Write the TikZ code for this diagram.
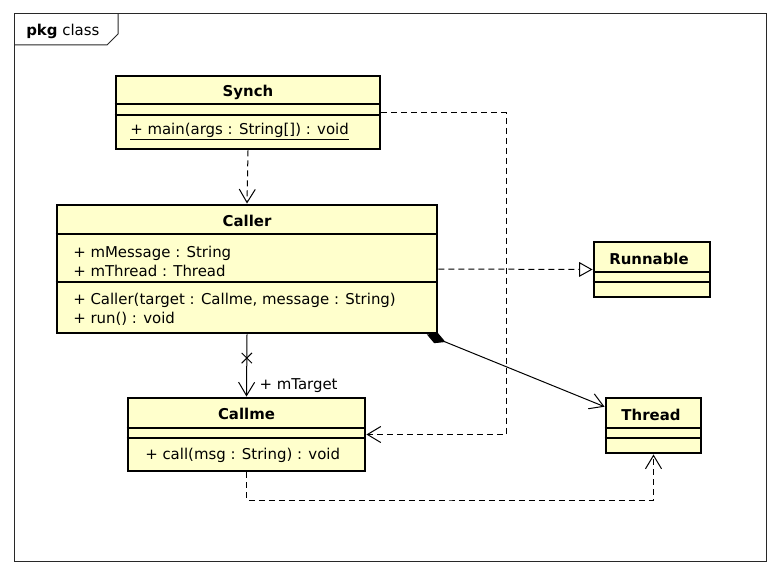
\documentclass[tikz,border=0pt]{standalone}
\usepackage{fontspec}
\setmainfont{DejaVu Sans}
\usepackage{xcolor}
\definecolor{umlyellow}{RGB}{255,255,204}
\definecolor{umlframe}{RGB}{40,40,40}
\usetikzlibrary{arrows.meta,positioning,shapes.misc}

\begin{document}
\begin{tikzpicture}[x=0.75pt, y=-0.75pt, font=\fontsize{11.2}{14.25}\selectfont,
    classbox/.style={draw, fill=umlyellow, line width=2.2pt, inner sep=0pt},
    classname/.style={font=\fontsize{11.2}{14.25}\selectfont\bfseries, inner sep=0pt},
    member/.style={anchor=west, align=left, inner sep=0pt},
    split/.style={line width=0.8pt},
    dep/.style={line width=0.75pt, dash pattern=on 4.5pt off 3pt,
                -{Straight Barb[length=10pt,width=12pt]}},
    realize/.style={line width=0.75pt, dash pattern=on 4.5pt off 3pt,
                -{Triangle[open,length=10pt,width=11pt]}},
    assoc/.style={line width=0.75pt, -{Straight Barb[length=10pt,width=12pt]}},
    comp/.style={line width=0.75pt,
                {Diamond[length=15pt,width=8pt]}-{Straight Barb[length=10pt,width=12pt]}}]

    \useasboundingbox (0,0) rectangle (780,574);

    % Package frame
    \draw[umlframe, line width=0.75pt] (14,14) rectangle (766,561);
    \draw[umlframe, line width=0.75pt] (14,45) -- (107,45) -- (118,34) -- (118,14);
    \node[anchor=west, inner sep=0pt] (pkgLabel) at (26,31) {\textbf{pkg} class};

    % Synch
    \node[classbox, minimum width=198pt, minimum height=54.75pt] (synch) at (248,112.5) {};
    \node[classname] (synchName) at (248,92) {Synch};
    \draw[split] (synch.west |- 0,104) -- (synch.east |- 0,104);
    \draw[split] (synch.west |- 0,115) -- (synch.east |- 0,115);
    \node[member] (synchOps) at (130,132) {\underline{+ main(args : String[]) : void}};

    % Caller
    \node[classbox, minimum width=285pt, minimum height=96pt] (caller) at (247,269) {};
    \node[classname] (callerName) at (247,221) {Caller};
    \draw[split] (caller.west |- 0,234) -- (caller.east |- 0,234);
    \node[member] (callerAttrs) at (73,261) {+ mMessage : String\\+ mThread : Thread};
    \draw[split] (caller.west |- 0,282) -- (caller.east |- 0,282);
    \node[member] (callerOps) at (73,309)
      {+ Caller(target : Callme, message : String)\\+ run() : void};

    % Callme
    \node[classbox, minimum width=177.75pt, minimum height=54.75pt] (callme) at (246.5,434.5) {};
    \node[classname] (callmeName) at (246.5,414) {Callme};
    \draw[split] (callme.west |- 0,428) -- (callme.east |- 0,428);
    \draw[split] (callme.west |- 0,438) -- (callme.east |- 0,438);
    \node[member] (callmeOps) at (145,455) {+ call(msg : String) : void};

    % Runnable
    \node[classbox, minimum width=87pt, minimum height=41.25pt] (runnable) at (652,269.5) {};
    \node[classname] (runnableName) at (649,259) {Runnable};
    \draw[split] (runnable.west |- 0,272) -- (runnable.east |- 0,272);
    \draw[split] (runnable.west |- 0,282) -- (runnable.east |- 0,282);

    % Thread
    \node[classbox, minimum width=71.25pt, minimum height=41.25pt] (thread) at (653.5,425.5) {};
    \node[classname] (threadName) at (651,415) {Thread};
    \draw[split] (thread.west |- 0,428) -- (thread.east |- 0,428);
    \draw[split] (thread.west |- 0,438) -- (thread.east |- 0,438);

    % Bend points
    \coordinate (bendA) at (506,300);
    \coordinate (bendB) at (450,500);

    % Relations
    \draw[dep] (synch.south) -- (caller.north);
    \draw[dep] (synch.east) -| (bendA) |- (callme.east);
    \draw[realize] (caller.east) -- (runnable.west);
    \draw[comp] (caller.-20.5) -- (thread.159.8);
    \draw[assoc] (caller.south) --
      node[pos=0.38, cross out, draw, minimum size=7pt, inner sep=0pt, line width=0.75pt] (xmark) {}
      node[pos=0.82, anchor=west, xshift=6pt] (targetLabel) {+ mTarget}
      (callme.north);
    \draw[dep] (callme.south) |- (bendB) -| (thread.south);
  \end{tikzpicture}
\end{document}
